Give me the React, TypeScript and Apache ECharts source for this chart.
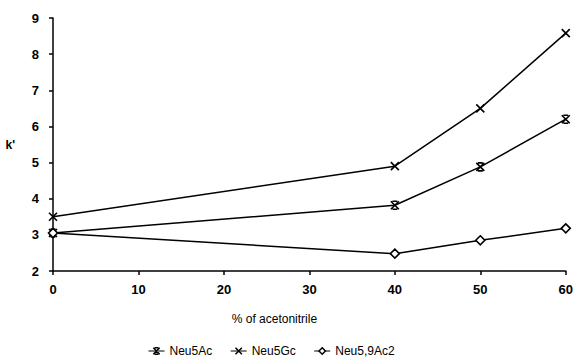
import React, { useEffect, useRef } from "react";
import * as echarts from "echarts";

const xValues = [0, 40, 50, 60];
const neu5Ac = [3.05, 3.82, 4.88, 6.2];
const neu5Gc = [3.5, 4.9, 6.5, 8.58];
const neu59Ac2 = [3.05, 2.48, 2.85, 3.18];
const seriesNames = ["Neu5Ac", "Neu5Gc", "Neu5,9Ac2"];

const xSym = "path://M0,0L10,10M10,0L0,10";
const starSym = "path://M0,0L10,10M10,0L0,10M2,0L8,0M2,10L8,10";

export default function App() {
  const ref = useRef<HTMLDivElement>(null);
  useEffect(() => {
    const chart = echarts.init(ref.current!, null, { renderer: "svg" });
    const pair = (ys: number[]) => xValues.map((x, i) => [x, ys[i]]);
    const font = "Liberation Sans, Arial, sans-serif";
    const common = {
      type: "line" as const,
      lineStyle: { color: "#000", width: 1.5 },
      symbolSize: 8,
      itemStyle: { color: "#fff", borderColor: "#000", borderWidth: 1.6 },
    };
    chart.setOption({
      animation: false,
      backgroundColor: "#fff",
      grid: { left: 53, right: 9, top: 18, bottom: 91 },
      legend: {
        bottom: 0,
        left: 143,
        itemWidth: 16,
        itemHeight: 8,
        itemGap: 18,
        itemStyle: { color: "#fff", borderColor: "#000", borderWidth: 1.5 },
        lineStyle: { color: "#000", width: 1 },
        textStyle: { color: "#000", fontFamily: font, fontSize: 12 },
        data: seriesNames,
      },
      xAxis: {
        type: "value",
        min: 0,
        max: 60,
        interval: 10,
        name: "% of acetonitrile",
        nameLocation: "middle",
        nameGap: 42,
        nameTextStyle: { color: "#000", fontFamily: font, fontSize: 12, padding: [0, 70, 0, 0] },
        axisLine: { lineStyle: { color: "#000", width: 1.5 } },
        axisTick: { lineStyle: { color: "#000", width: 1.5 }, length: 4, inside: false },
        axisLabel: { color: "#000", fontFamily: font, fontSize: 13, fontWeight: "bold", margin: 12 },
        splitLine: { show: false },
      },
      yAxis: {
        type: "value",
        min: 2,
        max: 9,
        interval: 1,
        name: "k'",
        nameLocation: "middle",
        nameRotate: 0,
        nameGap: 38,
        nameTextStyle: { color: "#000", fontFamily: font, fontSize: 12, fontWeight: "bold" },
        axisLine: { show: true, lineStyle: { color: "#000", width: 1.5 } },
        axisTick: { show: true, lineStyle: { color: "#000", width: 1.5 }, length: 4 },
        axisLabel: { color: "#000", fontFamily: font, fontSize: 13, fontWeight: "bold", margin: 14 },
        splitLine: { show: false },
      },
      series: [
        { ...common, name: seriesNames[0], symbol: starSym, data: pair(neu5Ac) },
        { ...common, name: seriesNames[1], symbol: xSym, data: pair(neu5Gc) },
        { ...common, name: seriesNames[2], symbol: "diamond", symbolSize: 9, data: pair(neu59Ac2) },
      ],
    });
    return () => chart.dispose();
  }, []);
  return <div ref={ref} style={{ width: 576, height: 362, position: "absolute", left: 0, top: 0 }} />;
}
